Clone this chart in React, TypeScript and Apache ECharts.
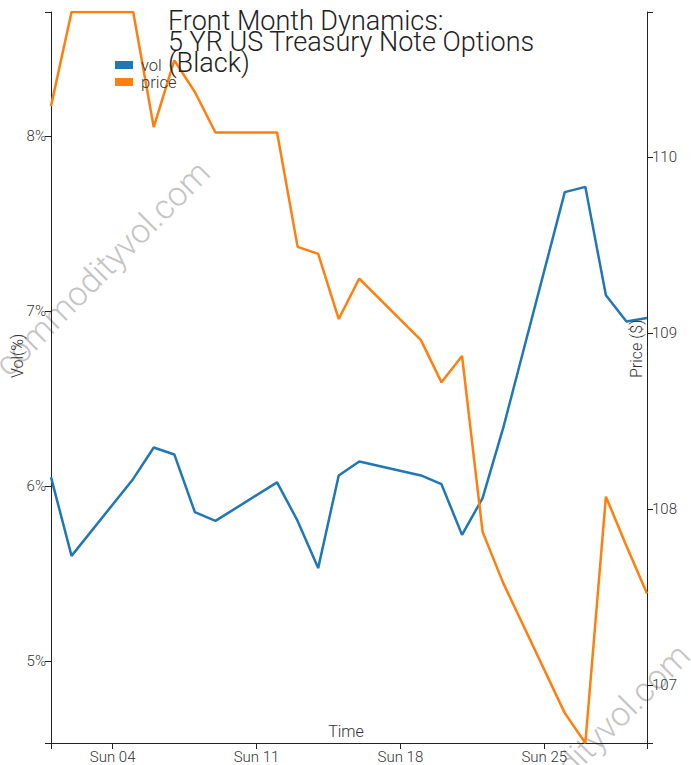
import React, { useEffect, useRef } from "react";
import * as echarts from "echarts";

const dates = [
  "2023-06-01", "2023-06-02", "2023-06-05", "2023-06-06", "2023-06-07", "2023-06-08",
  "2023-06-09", "2023-06-12", "2023-06-13", "2023-06-14", "2023-06-15", "2023-06-16",
  "2023-06-19", "2023-06-20", "2023-06-21", "2023-06-22", "2023-06-23", "2023-06-26",
  "2023-06-27", "2023-06-28", "2023-06-29", "2023-06-30",
];
const volValues = [
  6.05, 5.6, 6.04, 6.22, 6.18, 5.85, 5.8, 6.02, 5.8, 5.53, 6.06, 6.14,
  6.06, 6.01, 5.72, 5.93, 6.33, 7.68, 7.71, 7.09, 6.94, 6.96,
];
const priceValues = [
  110.29, 110.825, 110.825, 110.17, 110.55, 110.37, 110.14, 110.14, 109.49, 109.45, 109.08, 109.31,
  108.96, 108.72, 108.87, 107.87, 107.58, 106.84, 106.67, 108.07, 107.79, 107.52,
];
const volTicks = [5, 6, 7, 8];
const priceTicks = [107, 108, 109, 110];
const timeTickDates = ["2023-06-04", "2023-06-11", "2023-06-18", "2023-06-25"];
const titleLines = ["Front Month Dynamics:", "5 YR US Treasury Note Options", "(Black)"];
const seriesNames = ["vol", "price"];
const watermark = "commodityvol.com";

const FONT = "Roboto, 'Noto Sans', sans-serif";
const AXIS_COLOR = "#222";
const LABEL_COLOR = "#333";
const DAY_NAMES = ["Sun", "Mon", "Tue", "Wed", "Thu", "Fri", "Sat"];

function ts(s: string): number {
  const [y, m, d] = s.split("-").map(Number);
  return new Date(y, m - 1, d).getTime();
}

export default function App() {
  const ref = useRef<HTMLDivElement>(null);

  useEffect(() => {
    if (!ref.current) return;
    const chart = echarts.init(ref.current, null, { renderer: "svg" });

    const t = dates.map(ts);
    const tMin = Math.min(...t);
    const tMax = Math.max(...t);
    const volMin = Math.min(...volValues) - 1;
    const volMax = Math.max(...volValues) + 1;
    const pMin = Math.min(...priceValues);
    const pMax = Math.max(...priceValues);

    const axisLine = { show: true, lineStyle: { color: AXIS_COLOR, width: 1 } };
    const axisTickStyle = { show: true, length: 6, lineStyle: { color: AXIS_COLOR, width: 1 } };
    const labelStyle = { color: LABEL_COLOR, fontFamily: FONT, fontSize: 15, fontWeight: 300 as any };

    const wm = (x: number, y: number) => ({
      type: "text",
      x,
      y,
      rotation: Math.PI / 4,
      z: 0,
      silent: true,
      style: {
        text: watermark,
        fill: "#c4c4c4",
        font: `300 34px ${FONT}`,
        align: "center",
        verticalAlign: "middle",
      },
    });

    const axisName = (text: string, x: number, y: number, rotated: boolean) => ({
      type: "text",
      z: 10,
      x,
      y,
      rotation: rotated ? Math.PI / 2 : 0,
      style: {
        text,
        fill: "#333",
        font: `300 16px ${FONT}`,
        align: rotated ? "left" : "center",
        verticalAlign: "middle",
      },
    });

    const option: any = {
      animation: false,
      backgroundColor: "#fff",
      title: {
        text: titleLines.join("\n"),
        left: 168,
        top: 10,
        padding: 0,
        textStyle: {
          fontFamily: FONT,
          fontWeight: 300,
          fontSize: 27,
          lineHeight: 21,
          color: "#222",
        },
      },
      grid: { left: 51, right: 44, top: 12, bottom: 22, containLabel: false, outerBoundsMode: "none" },
      xAxis: {
        type: "value",
        min: tMin,
        max: tMax,
        axisLine,
        axisTick: { ...axisTickStyle, customValues: [tMin, ...timeTickDates.map(ts), tMax] },
        axisLabel: {
          ...labelStyle,
          margin: 6,
          customValues: timeTickDates.map(ts),
          formatter: (v: number) => {
            const d = new Date(v);
            return DAY_NAMES[d.getDay()] + " " + String(d.getDate()).padStart(2, "0");
          },
        },
        splitLine: { show: false },
      },
      yAxis: [
        {
          type: "value",
          position: "left",
          min: volMin,
          max: volMax,
          axisLine,
          axisTick: { ...axisTickStyle, customValues: [volMin, ...volTicks, volMax] },
          axisLabel: {
            ...labelStyle,
            margin: 5,
            customValues: volTicks,
            formatter: (v: number) => `${v}%`,
          },
          splitLine: { show: false },
        },
        {
          type: "value",
          position: "right",
          min: pMin,
          max: pMax,
          axisLine,
          axisTick: { ...axisTickStyle, customValues: [pMin, ...priceTicks, pMax] },
          axisLabel: {
            ...labelStyle,
            margin: 5,
            customValues: priceTicks,
            formatter: (v: number) => `${v}`,
          },
          splitLine: { show: false },
        },
      ],
      series: [
        {
          name: seriesNames[0],
          type: "line",
          yAxisIndex: 0,
          data: t.map((x, i) => [x, volValues[i]]),
          showSymbol: false,
          symbol: "none",
          lineStyle: { color: "#1f77b4", width: 2.5 },
          itemStyle: { color: "#1f77b4" },
          z: 3,
        },
        {
          name: seriesNames[1],
          type: "line",
          yAxisIndex: 1,
          data: t.map((x, i) => [x, priceValues[i]]),
          showSymbol: false,
          symbol: "none",
          lineStyle: { color: "#ff7f0e", width: 2.5 },
          itemStyle: { color: "#ff7f0e" },
          z: 3,
        },
      ],
      graphic: [
        wm(102, 268),
        wm(582, 751),
        {
          type: "rect",
          z: 10,
          shape: { x: 115, y: 61, width: 18, height: 8 },
          style: { fill: "#1f77b4" },
        },
        {
          type: "text",
          z: 10,
          x: 141,
          y: 65,
          style: {
            text: seriesNames[0],
            fill: "#333",
            font: `300 16.5px ${FONT}`,
            verticalAlign: "middle",
          },
        },
        {
          type: "rect",
          z: 10,
          shape: { x: 115, y: 78, width: 18, height: 8 },
          style: { fill: "#ff7f0e" },
        },
        {
          type: "text",
          z: 10,
          x: 141,
          y: 82,
          style: {
            text: seriesNames[1],
            fill: "#333",
            font: `300 16.5px ${FONT}`,
            verticalAlign: "middle",
          },
        },
        axisName("Vol(%)", 17, 378, true),
        axisName("Price ($)", 636, 378, true),
        axisName("Time", 346, 731, false),
      ],
    };

    chart.setOption(option);
    return () => chart.dispose();
  }, []);

  return (
    <div
      ref={ref}
      style={{ position: "absolute", left: 0, top: 0, width: 691, height: 765 }}
    />
  );
}
